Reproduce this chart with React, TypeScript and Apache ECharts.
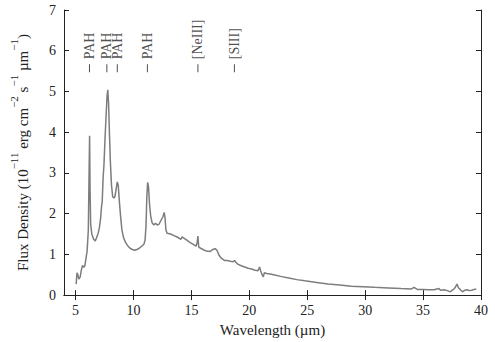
import React, { useEffect, useRef } from "react";
import * as echarts from "echarts";

const wavelength = [
  5.05, 5.12, 5.2, 5.28, 5.4, 5.5, 5.6, 5.7, 5.8, 5.9, 6.0, 6.1, 6.17, 6.21, 6.25, 6.3, 6.4, 6.55, 6.7, 6.8,
  6.95, 7.05, 7.15, 7.25, 7.3, 7.38, 7.45, 7.55, 7.65, 7.72, 7.78, 7.85, 7.92, 8.0, 8.1, 8.2, 8.3, 8.4, 8.5, 8.6,
  8.68, 8.78, 8.88, 9.0, 9.15, 9.3, 9.5, 9.7, 9.9, 10.1, 10.3, 10.5, 10.7, 10.9, 11.0, 11.08, 11.15, 11.22, 11.3, 11.38,
  11.48, 11.6, 11.75, 11.9, 12.05, 12.2, 12.4, 12.55, 12.65, 12.72, 12.8, 12.9, 13.2, 13.5, 13.8, 14.1, 14.2, 14.35, 14.6, 14.9,
  15.2, 15.4, 15.5, 15.56, 15.63, 15.8, 16.0, 16.3, 16.6, 16.85, 17.05, 17.2, 17.4, 17.6, 17.85, 18.1, 18.35, 18.6, 18.72, 18.85,
  19.0, 19.3, 19.6, 19.9, 20.2, 20.5, 20.75, 20.88, 20.98, 21.1, 21.2, 21.3, 21.5, 21.8, 22.1, 22.7, 23.4, 24.1, 24.8, 25.8,
  26.8, 27.8, 28.8, 29.8, 30.8, 32.0, 33.1, 34.0, 34.22, 34.5, 35.0, 35.5, 35.94, 36.2, 36.37, 36.5, 36.8, 37.1, 37.36, 37.5,
  37.64, 37.8, 37.93, 38.05, 38.2, 38.4, 38.6, 38.8, 39.0, 39.2, 39.4, 39.59,
];

const fluxDensity = [
  0.27, 0.55, 0.5, 0.39, 0.45, 0.62, 0.73, 0.68, 0.72, 0.9, 1.1, 1.6, 3.1, 3.91, 2.6, 1.75, 1.5, 1.38, 1.33, 1.4,
  1.52, 1.65, 1.86, 2.2, 2.3, 2.9, 3.2, 3.9, 4.5, 4.9, 5.04, 4.7, 4.0, 3.3, 2.7, 2.42, 2.38, 2.42, 2.6, 2.78,
  2.7, 2.3, 1.95, 1.6, 1.4, 1.3, 1.21, 1.15, 1.12, 1.1, 1.12, 1.15, 1.2, 1.25, 1.35, 1.7, 2.4, 2.77, 2.65, 2.25,
  1.95, 1.78, 1.72, 1.76, 1.72, 1.74, 1.85, 1.93, 2.03, 1.9, 1.6, 1.52, 1.5, 1.46, 1.42, 1.37, 1.43, 1.4, 1.35, 1.29,
  1.24, 1.2, 1.3, 1.45, 1.18, 1.15, 1.12, 1.08, 1.07, 1.12, 1.14, 1.1, 0.97, 0.9, 0.85, 0.85, 0.83, 0.82, 0.85, 0.8,
  0.76, 0.72, 0.69, 0.66, 0.64, 0.61, 0.6, 0.69, 0.6, 0.5, 0.45, 0.55, 0.53, 0.52, 0.5, 0.46, 0.42, 0.38, 0.35, 0.31,
  0.27, 0.245, 0.22, 0.205, 0.19, 0.175, 0.16, 0.15, 0.19, 0.14, 0.14, 0.13, 0.13, 0.15, 0.16, 0.12, 0.13, 0.11, 0.08, 0.12,
  0.14, 0.2, 0.27, 0.18, 0.14, 0.08, 0.12, 0.13, 0.11, 0.12, 0.14, 0.15,
];

const featureWavelengths = [6.2, 7.7, 8.6, 11.2, 15.56, 18.71];
const featureLabels = ["PAH", "PAH", "PAH", "PAH", "[NeIII]", "[SIII]"];
const featureMarkerLevel = 5.57;

const xTicks = [5, 10, 15, 20, 25, 30, 35, 40];
const yTicks = [0, 1, 2, 3, 4, 5, 6, 7];

const FONT = "'Liberation Serif', 'Times New Roman', serif";

export default function App() {
  const ref = useRef<HTMLDivElement>(null);

  useEffect(() => {
    if (!ref.current) return;
    const chart = echarts.init(ref.current, undefined, { renderer: "svg" });

    const axisLine = { show: true, lineStyle: { color: "#222", width: 1 } };
    const tickStyle = { show: true, inside: true, length: 5, lineStyle: { color: "#222", width: 1 } };
    const labelStyle = { fontFamily: FONT, fontSize: 14, color: "#222" };

    chart.setOption({
      animation: false,
      grid: { left: 60, right: 14, top: 10, bottom: 46, containLabel: false },
      xAxis: [
        {
          type: "value",
          min: 4,
          max: 40,
          position: "bottom",
          axisLine,
          axisTick: { ...tickStyle, customValues: xTicks },
          axisLabel: { ...labelStyle, margin: 8, customValues: xTicks },
          splitLine: { show: false },
          name: "Wavelength (µm)",
          nameLocation: "middle",
          nameGap: 25,
          nameTextStyle: { fontFamily: FONT, fontSize: 15, color: "#222" },
        },
        {
          type: "value",
          min: 4,
          max: 40,
          position: "top",
          axisLine,
          axisTick: { ...tickStyle, customValues: xTicks },
          axisLabel: { show: false },
          splitLine: { show: false },
        },
      ],
      yAxis: [
        {
          type: "value",
          min: 0,
          max: 7,
          interval: 1,
          position: "left",
          axisLine,
          axisTick: { ...tickStyle, customValues: yTicks },
          axisLabel: { ...labelStyle, margin: 8, customValues: yTicks },
          splitLine: { show: false },
          name:
            "{n|Flux Density (10}{s|−11}{n| erg cm}{s|−2}{n| s}{s|−1}{n| µm}{s|−1}{n|)}",
          nameLocation: "middle",
          nameGap: 34,
          nameTextStyle: {
            fontFamily: FONT,
            fontSize: 15,
            color: "#222",
            rich: {
              n: { fontFamily: FONT, fontSize: 15, color: "#222", lineHeight: 22, verticalAlign: "bottom" },
              s: { fontFamily: FONT, fontSize: 11, color: "#222", lineHeight: 22, verticalAlign: "top" },
            },
          },
        },
        {
          type: "value",
          min: 0,
          max: 7,
          interval: 1,
          position: "right",
          axisLine,
          axisTick: { ...tickStyle, customValues: yTicks },
          axisLabel: { show: false },
          splitLine: { show: false },
        },
      ],
      series: [
        {
          type: "line",
          xAxisIndex: 0,
          yAxisIndex: 0,
          data: wavelength.map((w, i) => [w, fluxDensity[i]]),
          showSymbol: false,
          symbol: "none",
          lineStyle: { color: "#7d7d7d", width: 1.5 },
          itemStyle: { color: "#7d7d7d" },
        },
        {
          type: "scatter",
          xAxisIndex: 0,
          yAxisIndex: 0,
          data: featureWavelengths.map((w, i) => ({ value: [w, featureMarkerLevel], name: featureLabels[i] })),
          symbol: "rect",
          symbolSize: [1, 8],
          itemStyle: { color: "#222" },
          label: {
            show: true,
            position: "top",
            distance: 5,
            rotate: 90,
            align: "left",
            verticalAlign: "middle",
            formatter: (p: any) => p.name,
            fontFamily: FONT,
            fontSize: 14,
            color: "#222",
          },
          silent: true,
        },
      ],
    });

    return () => chart.dispose();
  }, []);

  return <div ref={ref} style={{ position: "absolute", left: 0, top: 0, width: 495, height: 342 }} />;
}
